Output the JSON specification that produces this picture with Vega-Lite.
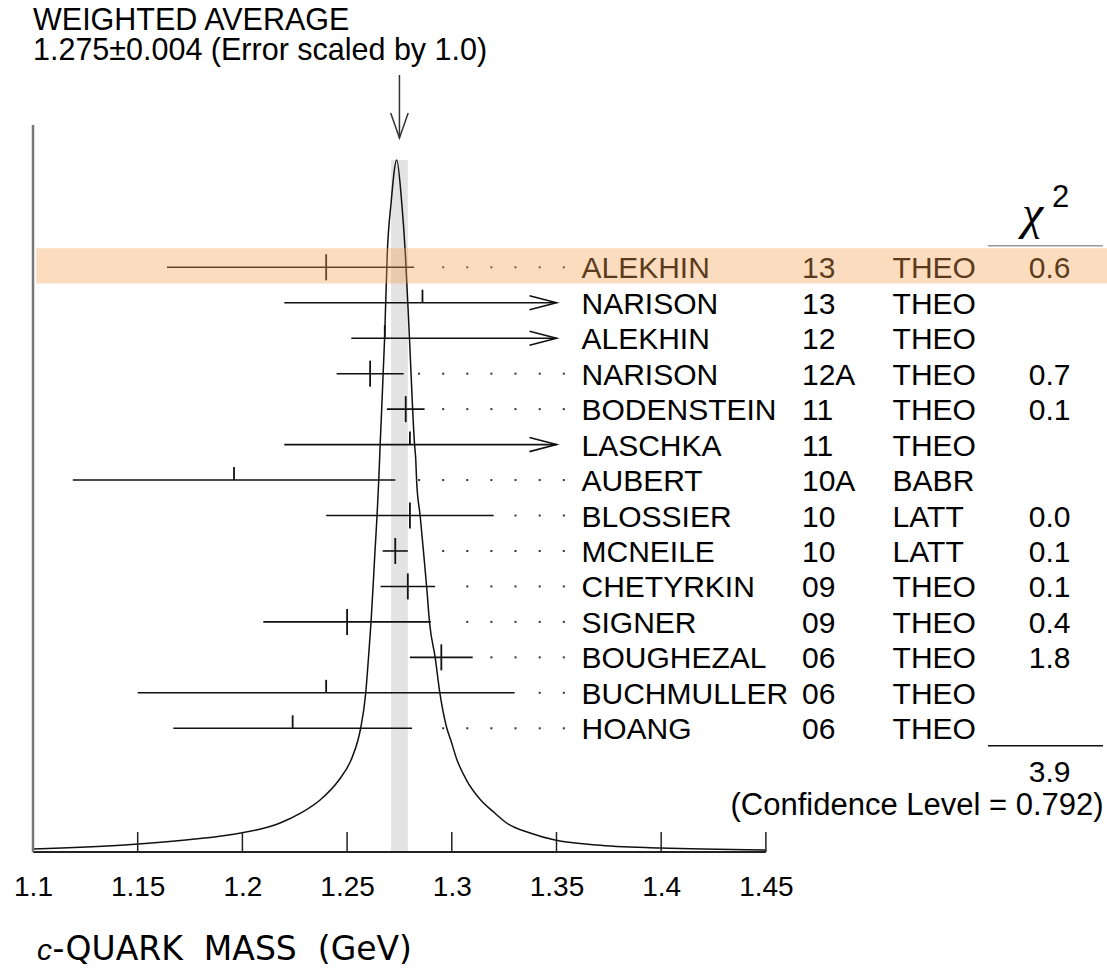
{
  "$schema": "https://vega.github.io/schema/vega-lite/v6.json",
  "width": 1074,
  "height": 852,
  "autosize": {"type": "none"},
  "padding": {"left": 33, "top": 0, "right": 0, "bottom": 127},
  "background": "white",
  "config": {
    "view": {"stroke": null},
    "text": {"font": "Liberation Sans", "color": "#000000"},
    "axisX": {"labels": false, "ticks": false, "domain": false, "grid": false}
  },
  "datasets": {
    "measurements": [
      {"row": 1, "name": "ALEKHIN", "year": "13", "type": "THEO", "value": 1.24, "lo": 1.164, "hi": 1.282, "chi2": "0.6", "arrow": false, "leader": [1.29589, 1.3074, 1.31891, 1.33042, 1.34198, 1.35349]},
      {"row": 2, "name": "NARISON", "year": "13", "type": "THEO", "value": 1.286, "lo": 1.22, "hi": 1.35, "chi2": null, "arrow": true, "leader": []},
      {"row": 3, "name": "ALEKHIN", "year": "12", "type": "THEO", "value": 1.268, "lo": 1.252, "hi": 1.35, "chi2": null, "arrow": true, "leader": []},
      {"row": 4, "name": "NARISON", "year": "12A", "type": "THEO", "value": 1.261, "lo": 1.245, "hi": 1.277, "chi2": "0.7", "arrow": false, "leader": [1.28438, 1.29589, 1.3074, 1.31891, 1.33042, 1.34198, 1.35349]},
      {"row": 5, "name": "BODENSTEIN", "year": "11", "type": "THEO", "value": 1.278, "lo": 1.269, "hi": 1.287, "chi2": "0.1", "arrow": false, "leader": [1.29589, 1.3074, 1.31891, 1.33042, 1.34198, 1.35349]},
      {"row": 6, "name": "LASCHKA", "year": "11", "type": "THEO", "value": 1.28, "lo": 1.22, "hi": 1.35, "chi2": null, "arrow": true, "leader": []},
      {"row": 7, "name": "AUBERT", "year": "10A", "type": "BABR", "value": 1.196, "lo": 1.119, "hi": 1.273, "chi2": null, "arrow": false, "leader": [1.28438, 1.29589, 1.3074, 1.31891, 1.33042, 1.34198, 1.35349]},
      {"row": 8, "name": "BLOSSIER", "year": "10", "type": "LATT", "value": 1.28, "lo": 1.24, "hi": 1.32, "chi2": "0.0", "arrow": false, "leader": [1.33042, 1.34198, 1.35349]},
      {"row": 9, "name": "MCNEILE", "year": "10", "type": "LATT", "value": 1.273, "lo": 1.267, "hi": 1.279, "chi2": "0.1", "arrow": false, "leader": [1.29589, 1.3074, 1.31891, 1.33042, 1.34198, 1.35349]},
      {"row": 10, "name": "CHETYRKIN", "year": "09", "type": "THEO", "value": 1.279, "lo": 1.266, "hi": 1.292, "chi2": "0.1", "arrow": false, "leader": [1.3074, 1.31891, 1.33042, 1.34198, 1.35349]},
      {"row": 11, "name": "SIGNER", "year": "09", "type": "THEO", "value": 1.25, "lo": 1.21, "hi": 1.29, "chi2": "0.4", "arrow": false, "leader": [1.3074, 1.31891, 1.33042, 1.34198, 1.35349]},
      {"row": 12, "name": "BOUGHEZAL", "year": "06", "type": "THEO", "value": 1.295, "lo": 1.28, "hi": 1.31, "chi2": "1.8", "arrow": false, "leader": [1.31891, 1.33042, 1.34198, 1.35349]},
      {"row": 13, "name": "BUCHMULLER", "year": "06", "type": "THEO", "value": 1.24, "lo": 1.15, "hi": 1.33, "chi2": null, "arrow": false, "leader": [1.34198, 1.35349]},
      {"row": 14, "name": "HOANG", "year": "06", "type": "THEO", "value": 1.224, "lo": 1.167, "hi": 1.281, "chi2": null, "arrow": false, "leader": [1.29589, 1.3074, 1.31891, 1.33042, 1.34198, 1.35349]}
    ],
    "ideogram": [
      {"mass": 1.1000, "density": 0.0043},
      {"mass": 1.1437, "density": 0.0101},
      {"mass": 1.1729, "density": 0.0173},
      {"mass": 1.1934, "density": 0.0246},
      {"mass": 1.2067, "density": 0.0318},
      {"mass": 1.2180, "density": 0.0419},
      {"mass": 1.2280, "density": 0.0564},
      {"mass": 1.2371, "density": 0.0751},
      {"mass": 1.2461, "density": 0.1040},
      {"mass": 1.2519, "density": 0.1329},
      {"mass": 1.2552, "density": 0.1618},
      {"mass": 1.2565, "density": 0.1792},
      {"mass": 1.2589, "density": 0.2298},
      {"mass": 1.2602, "density": 0.2803},
      {"mass": 1.2614, "density": 0.3309},
      {"mass": 1.2624, "density": 0.3829},
      {"mass": 1.2633, "density": 0.4335},
      {"mass": 1.2643, "density": 0.4855},
      {"mass": 1.2651, "density": 0.5361},
      {"mass": 1.2655, "density": 0.5665},
      {"mass": 1.2658, "density": 0.5896},
      {"mass": 1.2679, "density": 0.7413},
      {"mass": 1.2692, "density": 0.8656},
      {"mass": 1.2710, "density": 0.9379},
      {"mass": 1.2737, "density": 1.0},
      {"mass": 1.2761, "density": 0.9379},
      {"mass": 1.2778, "density": 0.8656},
      {"mass": 1.2798, "density": 0.7413},
      {"mass": 1.2822, "density": 0.5896},
      {"mass": 1.2828, "density": 0.5665},
      {"mass": 1.2832, "density": 0.5361},
      {"mass": 1.2849, "density": 0.4855},
      {"mass": 1.2865, "density": 0.4335},
      {"mass": 1.2880, "density": 0.3829},
      {"mass": 1.2894, "density": 0.3309},
      {"mass": 1.2921, "density": 0.2803},
      {"mass": 1.2943, "density": 0.2298},
      {"mass": 1.2976, "density": 0.1792},
      {"mass": 1.2995, "density": 0.1618},
      {"mass": 1.3025, "density": 0.1329},
      {"mass": 1.3070, "density": 0.1040},
      {"mass": 1.3138, "density": 0.0751},
      {"mass": 1.3205, "density": 0.0564},
      {"mass": 1.3262, "density": 0.0419},
      {"mass": 1.3374, "density": 0.0275},
      {"mass": 1.3493, "density": 0.0173},
      {"mass": 1.3689, "density": 0.0101},
      {"mass": 1.3997, "density": 0.0058},
      {"mass": 1.4500, "density": 0.0029}
    ],
    "axisTicks": [
      {"tick": 1.1}, {"tick": 1.15}, {"tick": 1.2}, {"tick": 1.25},
      {"tick": 1.3}, {"tick": 1.35}, {"tick": 1.4}, {"tick": 1.45}
    ]
  },
  "resolve": {"scale": {"y": "independent"}},
  "layer": [
    {
      "data": {"name": "ideogram"},
      "layer": [
        {
          "data": {"values": [{}]},
          "mark": {"type": "rect", "color": "#e3e3e3"},
          "encoding": {
            "x": {
              "datum": 1.271, "type": "quantitative", "title": null,
              "scale": {"domain": [1.1, 1.6129], "nice": false, "zero": false},
              "axis": {
                "values": [1.1, 1.15, 1.2, 1.25, 1.3, 1.35, 1.4, 1.45],
                "format": "~g",
                "labels": true,
                "domain": false,
                "grid": false,
                "ticks": false,
                "labelFont": "Liberation Sans",
                "labelFontSize": 28,
                "labelColor": "#000000",
                "labelPadding": 43,
                "labelBaseline": "alphabetic",
                "labelFlush": false,
                "labelOverlap": false,
                "labelBound": false,
                "title": null
              }
            },
            "x2": {"datum": 1.279},
            "y": {"datum": 0, "type": "quantitative", "scale": {"domain": [0, 1.23121], "nice": false, "zero": false}, "axis": null},
            "y2": {"datum": 1.0}
          }
        },
        {
          "mark": {"type": "line", "interpolate": "monotone", "color": "#111111", "strokeWidth": 1.5},
          "encoding": {
            "x": {"field": "mass", "type": "quantitative", "title": null},
            "y": {"field": "density", "type": "quantitative", "axis": null}
          }
        },
        {
          "data": {"values": [{}]},
          "mark": {"type": "rule", "color": "#222222", "strokeWidth": 2},
          "encoding": {
            "x": {"datum": 1.1, "type": "quantitative", "title": null},
            "x2": {"datum": 1.45},
            "y": {"datum": 0, "type": "quantitative", "axis": null}
          }
        },
        {
          "data": {"name": "axisTicks"},
          "mark": {"type": "rule", "color": "#222222", "strokeWidth": 1.5, "y2Offset": -20},
          "encoding": {
            "x": {"field": "tick", "type": "quantitative", "title": null},
            "y": {"datum": 0, "type": "quantitative", "axis": null},
            "y2": {"datum": 0}
          }
        }
      ]
    },
    {
      "data": {"name": "measurements"},
      "layer": [
        {
          "data": {"values": [{}]},
          "mark": {"type": "rule", "color": "#777777", "strokeWidth": 2.5},
          "encoding": {
            "x": {"datum": 1.1, "type": "quantitative", "title": null},
            "y": {"datum": -3.013, "type": "quantitative", "scale": {"domain": [-6.538, 17.489], "reverse": true, "nice": false, "zero": false}, "axis": null},
            "y2": {"datum": 17.489}
          }
        },
        {
          "mark": {"type": "rule", "color": "#111111", "strokeWidth": 1.6},
          "encoding": {
            "x": {"field": "lo", "type": "quantitative", "title": null},
            "x2": {"field": "hi"},
            "y": {"field": "row", "type": "quantitative", "axis": null}
          }
        },
        {
          "transform": [{"filter": "datum.chi2 != null"}],
          "mark": {"type": "rule", "color": "#111111", "strokeWidth": 1.8, "yOffset": -13, "y2Offset": 13},
          "encoding": {
            "x": {"field": "value", "type": "quantitative", "title": null},
            "y": {"field": "row", "type": "quantitative", "axis": null},
            "y2": {"field": "row"}
          }
        },
        {
          "transform": [{"filter": "datum.chi2 == null"}],
          "mark": {"type": "rule", "color": "#111111", "strokeWidth": 1.8, "yOffset": -13, "y2Offset": 0},
          "encoding": {
            "x": {"field": "value", "type": "quantitative", "title": null},
            "y": {"field": "row", "type": "quantitative", "axis": null},
            "y2": {"field": "row"}
          }
        },
        {
          "transform": [{"filter": "datum.arrow"}],
          "mark": {"type": "point", "shape": "M-2,-0.52L0,0L-2,0.52", "filled": false, "size": 729, "stroke": "#111111", "strokeWidth": 1.6, "opacity": 1},
          "encoding": {
            "x": {"field": "hi", "type": "quantitative", "title": null},
            "y": {"field": "row", "type": "quantitative", "axis": null}
          }
        },
        {
          "transform": [{"flatten": ["leader"]}],
          "mark": {"type": "point", "shape": "square", "filled": true, "size": 4, "color": "#333333", "opacity": 1},
          "encoding": {
            "x": {"field": "leader", "type": "quantitative", "title": null},
            "y": {"field": "row", "type": "quantitative", "axis": null}
          }
        },
        {
          "mark": {"type": "text", "align": "left", "baseline": "alphabetic", "dy": 11, "fontSize": 30},
          "encoding": {
            "x": {"datum": 1.36194, "type": "quantitative", "title": null},
            "y": {"field": "row", "type": "quantitative", "axis": null},
            "text": {"field": "name"}
          }
        },
        {
          "mark": {"type": "text", "align": "left", "baseline": "alphabetic", "dy": 11, "fontSize": 30},
          "encoding": {
            "x": {"datum": 1.46724, "type": "quantitative", "title": null},
            "y": {"field": "row", "type": "quantitative", "axis": null},
            "text": {"field": "year"}
          }
        },
        {
          "mark": {"type": "text", "align": "left", "baseline": "alphabetic", "dy": 11, "fontSize": 30},
          "encoding": {
            "x": {"datum": 1.51051, "type": "quantitative", "title": null},
            "y": {"field": "row", "type": "quantitative", "axis": null},
            "text": {"field": "type"}
          }
        },
        {
          "transform": [{"filter": "datum.chi2 != null"}],
          "mark": {"type": "text", "align": "right", "baseline": "alphabetic", "dy": 11, "fontSize": 30},
          "encoding": {
            "x": {"datum": 1.5955, "type": "quantitative", "title": null},
            "y": {"field": "row", "type": "quantitative", "axis": null},
            "text": {"field": "chi2"}
          }
        },
        {
          "data": {"values": [{}]},
          "mark": {"type": "text", "text": "χ", "font": "Liberation Serif", "fontStyle": "italic", "align": "left", "baseline": "alphabetic", "fontSize": 48},
          "encoding": {
            "x": {"datum": 1.5723, "type": "quantitative", "title": null},
            "y": {"datum": -0.07, "type": "quantitative", "axis": null}
          }
        },
        {
          "data": {"values": [{}]},
          "mark": {"type": "text", "text": "2", "align": "left", "baseline": "alphabetic", "fontSize": 31},
          "encoding": {
            "x": {"datum": 1.58663, "type": "quantitative", "title": null},
            "y": {"datum": -0.70, "type": "quantitative", "axis": null}
          }
        },
        {
          "data": {"values": [{}]},
          "mark": {"type": "rule", "color": "#999999", "strokeWidth": 1.5},
          "encoding": {
            "x": {"datum": 1.55606, "type": "quantitative", "title": null},
            "x2": {"datum": 1.61098},
            "y": {"datum": 0.391, "type": "quantitative", "axis": null}
          }
        },
        {
          "data": {"values": [{}]},
          "mark": {"type": "rule", "color": "#111111", "strokeWidth": 1.5},
          "encoding": {
            "x": {"datum": 1.55606, "type": "quantitative", "title": null},
            "x2": {"datum": 1.61098},
            "y": {"datum": 14.49, "type": "quantitative", "axis": null}
          }
        },
        {
          "data": {"values": [{}]},
          "mark": {"type": "text", "text": "3.9", "align": "right", "baseline": "alphabetic", "fontSize": 30},
          "encoding": {
            "x": {"datum": 1.5955, "type": "quantitative", "title": null},
            "y": {"datum": 15.506, "type": "quantitative", "axis": null}
          }
        },
        {
          "data": {"values": [{}]},
          "mark": {"type": "text", "text": "(Confidence Level = 0.792)", "align": "right", "baseline": "alphabetic", "fontSize": 31},
          "encoding": {
            "x": {"datum": 1.61127, "type": "quantitative", "title": null},
            "y": {"datum": 16.445, "type": "quantitative", "axis": null}
          }
        },
        {
          "data": {"values": [{}]},
          "mark": {"type": "text", "text": "WEIGHTED AVERAGE", "align": "left", "baseline": "alphabetic", "fontSize": 30.5},
          "encoding": {
            "x": {"datum": 1.1, "type": "quantitative", "title": null},
            "y": {"datum": -5.69, "type": "quantitative", "axis": null}
          }
        },
        {
          "data": {"values": [{}]},
          "mark": {"type": "text", "text": "1.275±0.004 (Error scaled by 1.0)", "align": "left", "baseline": "alphabetic", "fontSize": 30.5},
          "encoding": {
            "x": {"datum": 1.1, "type": "quantitative", "title": null},
            "y": {"datum": -4.846, "type": "quantitative", "axis": null}
          }
        },
        {
          "data": {"values": [{}]},
          "mark": {"type": "rule", "color": "#333333", "strokeWidth": 1.5},
          "encoding": {
            "x": {"datum": 1.275, "type": "quantitative", "title": null},
            "y": {"datum": -4.423, "type": "quantitative", "axis": null},
            "y2": {"datum": -2.646}
          }
        },
        {
          "data": {"values": [{}]},
          "mark": {"type": "point", "shape": "M-0.7,-2L0,0L0.7,-2", "filled": false, "size": 625, "stroke": "#333333", "strokeWidth": 1.5, "opacity": 1},
          "encoding": {
            "x": {"datum": 1.275, "type": "quantitative", "title": null},
            "y": {"datum": -2.646, "type": "quantitative", "axis": null}
          }
        },
        {
          "data": {"values": [{}]},
          "mark": {"type": "text", "text": "c", "font": "Liberation Sans", "fontStyle": "italic", "align": "left", "baseline": "alphabetic", "fontSize": 30},
          "encoding": {
            "x": {"datum": 1.1019, "type": "quantitative", "title": null},
            "y": {"datum": 20.535, "type": "quantitative", "axis": null}
          }
        },
        {
          "data": {"values": [{}]},
          "mark": {"type": "text", "text": "-QUARK\u00a0\u00a0MASS\u00a0\u00a0(GeV)", "font": "DejaVu Sans", "align": "left", "baseline": "alphabetic", "fontSize": 33},
          "encoding": {
            "x": {"datum": 1.10931, "type": "quantitative", "title": null},
            "y": {"datum": 20.535, "type": "quantitative", "axis": null}
          }
        },
        {
          "data": {"values": [{}]},
          "mark": {"type": "rect", "color": "#f7a050", "opacity": 0.37},
          "encoding": {
            "x": {"datum": 1.1015, "type": "quantitative", "title": null},
            "x2": {"datum": 1.6129},
            "y": {"datum": 0.46, "type": "quantitative", "axis": null},
            "y2": {"datum": 1.46}
          }
        }
      ]
    }
  ]
}
